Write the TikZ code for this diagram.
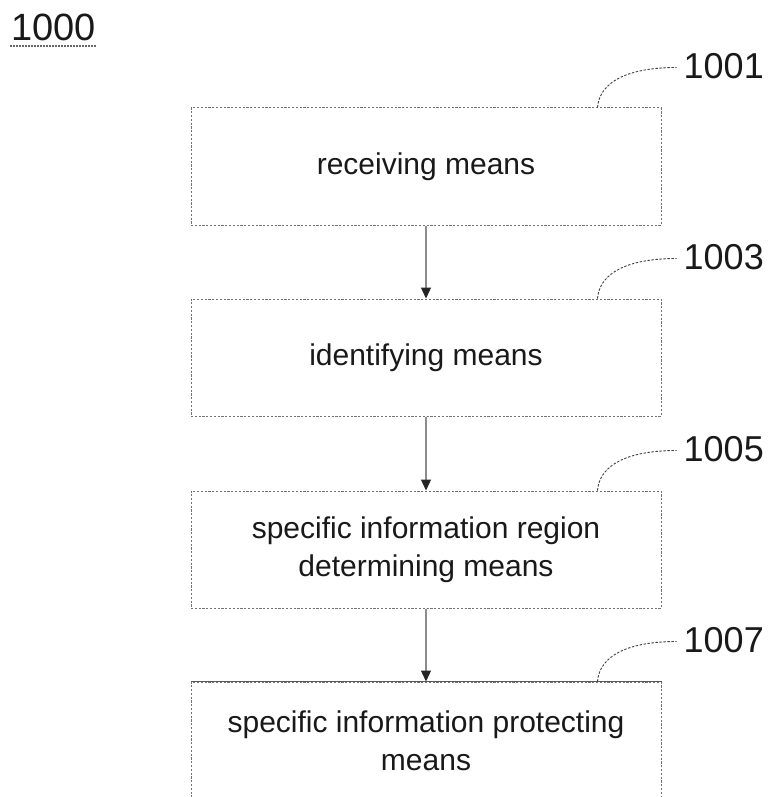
\documentclass[tikz,border=0pt]{standalone}
\usepackage{fontspec}
\setmainfont{Liberation Sans}
\usetikzlibrary{arrows.meta,calc}
\begin{document}
\begin{tikzpicture}[x=1pt,y=-1pt,
  boxst/.style={draw=black!55, line width=1pt, dash pattern=on 2.2pt off 1.6pt,
    minimum width=470pt, minimum height=117pt, inner sep=0pt, align=center,
    font=\fontsize{30}{38}\selectfont, text=black!90},
  flow/.style={draw=black!45, line width=1.3pt,
    -{Triangle[length=11pt,width=10pt,color=black!85]}},
  leader/.style={draw=black!75, line width=0.9pt, dash pattern=on 2.4pt off 1.6pt},
  reflbl/.style={anchor=west, inner sep=0pt, font=\fontsize{36}{36}\selectfont, text=black!90}]
\useasboundingbox (0,0) rectangle (775,797);
\clip (0,0) rectangle (775,797);
% title
\node[anchor=south west, inner sep=0pt, font=\fontsize{38}{38}\selectfont, text=black!90] (title) at (11,41) {1000};
\draw[black!60, line width=1.2pt, dash pattern=on 2pt off 1pt] ($(title.south west)+(-1,5)$) coordinate (u1) -- ($(title.south east)+(1,5)$) coordinate (u2);
% boxes
\node[boxst] (b1) at (426,166.5) {receiving means};
\node[boxst] (b2) at (426,357.5) {identifying means};
\node[boxst] (b3) at (426,549.5) {specific information region\\determining means};
\node[boxst] (b4) at (426,740.5) {specific information protecting\\means};
\draw[black!65, line width=1pt] (b4.north west) -- (b4.north east);
% arrows
\draw[flow] (b1) -- (b2);
\draw[flow] (b2) -- (b3);
\draw[flow] (b3) -- (b4);
% leaders and reference numerals
\foreach \b/\t in {b1/1001,b2/1003,b3/1005,b4/1007}{
  \coordinate (s\b) at ($(\b.north west)+(407,0)$);
  \coordinate (e\b) at ($(\b.north west)+(486,-40)$);
  \draw[leader] (s\b) .. controls ($(s\b)+(2,-26)$) and ($(e\b)+(-48,0)$) .. (e\b);
  \node[reflbl] (n\t) at ($(e\b)+(7,-1)$) {\t};
}
\end{tikzpicture}
\end{document}
